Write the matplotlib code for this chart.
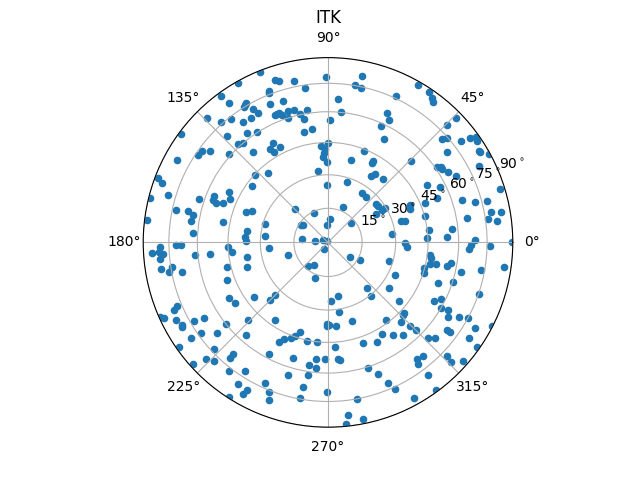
import numpy as np
import matplotlib
matplotlib.use("Agg")
import matplotlib.pyplot as plt

title = "ITK"
zenith_ticks = [15, 30, 45, 60, 75, 90]

# azimuth in degrees; radial position, on a 0-90 outer-edge scale
azimuth_q1 = [78.3, 80.1, 77.8, 60.1, 56, 64.9, 54.1, 53.1, 85.9, 84.1, 65.3, 88.9, 63.3, 65.3, 44.0, 44.4,
              61.3, 42.0, 41.3, 37.1, 36.2, 35.3, 34.1, 68.2, 37.0, 31.0, 30.6, 28.6, 74.1, 44.2, 60.8, 60.7,
              26.7, 34.4, 33.5, 32.5, 30.5, 55.2, 56.7, 48.7, 27.2, 72.1, 29.9, 26.1, 17.1, 55, 49.6, 21.9,
              17.4, 15.2, 14.4, 21.8, 38.2, 35.6, 66.3, 30.7, 30.5, 30.1, 24.2, 21.8, 10.7, 10.1, 15, 9.8,
              8.2, 7.1, 39.2, 16, 15.2, 6.8, 6, 7.1, 2.4, 2.3, 0.8, 359.3, 358.8, 358.9, 0, 84.2]
radial_q1 = [82.6, 77.6, 76.7, 88.2, 88.2, 78.5, 86.6, 85.3, 69.8, 63.6, 69.2, 59.4, 66.5, 62.2, 86.9, 81.4,
             57.2, 74.9, 77.4, 81.5, 85.8, 88.5, 87.8, 47.7, 72.8, 86, 86.2, 89.5, 41.5, 56.6, 45.2, 44.1,
             82.5, 64.6, 66.2, 66.1, 68, 40.4, 38.5, 40.8, 70.3, 30.7, 55.8, 60.9, 87.8, 29.1, 28.8, 57.4,
             68.5, 74.3, 80.1, 51.1, 29.9, 30.1, 18.6, 32.5, 30.7, 27.2, 44, 43.2, 81, 85.8, 49.1, 68.9,
             78.9, 83.1, 14.7, 37.1, 39, 49.7, 60.9, 31.6, 58.2, 48.4, 71.8, 37.7, 69.8, 79.1, 89.6, 11.3]

azimuth_q2 = [111.8, 108.1, 106.8, 101.8, 90.6, 119.3, 98.4, 111.4, 111.7, 126, 107.6, 125.4, 112.7, 120.3, 121, 121.7,
              119.2, 118.4, 107.1, 104.3, 98.9, 102.4, 110.8, 112.7, 111.6, 110, 107.7, 100.9, 121.7, 128.2, 134.2, 131.6,
              125.2, 97.9, 102.1, 126.3, 122.7, 143.6, 133.3, 132.2, 130.5, 118.9, 116.6, 121.8, 120.8, 129.7, 138, 94,
              89.8, 91.6, 92.4, 93.1, 90.7, 144.1, 142.3, 146.1, 151.4, 97.8, 130.9, 137.3, 159.3, 160.4, 143.5, 90.7,
              153.1, 163.6, 166.1, 158, 161.5, 156.2, 159.9, 160.7, 159.6, 134.7, 114.5, 157.7, 159.8, 168.1, 167.5, 168.7,
              170.9, 169.2, 173.1, 164, 145.4, 147.5, 92.2, 172.2, 176.2, 176.5, 174.5, 173.3, 175.5, 179.3, 157, 120]
radial_q2 = [89.5, 83, 81.9, 80.1, 80.4, 89.2, 75.8, 79.2, 78.1, 88.4, 72, 83, 72.8, 78.9, 78.2, 77.6,
             74.4, 71.4, 66.8, 66.5, 65.1, 64, 67.2, 67, 67, 65.8, 63.6, 61, 71, 76.2, 84.3, 78.2,
             71.5, 55.6, 54.8, 66.4, 63.7, 89.2, 71.5, 65, 63.4, 55.1, 51.8, 53.3, 51, 57, 64.7, 46.9,
             48.2, 45.3, 43.4, 41.5, 39, 75.6, 72.4, 76, 83.5, 34.9, 44.4, 48.1, 88.3, 85.6, 45.8, 28.2,
             53.9, 81.1, 89.5, 59.7, 66.1, 52, 59.5, 57.6, 54.4, 22.6, 16, 39.8, 42.4, 75.5, 69.7, 66.9,
             67.4, 51.9, 89, 31.8, 14.6, 15.4, 8.3, 39.7, 65.7, 40.3, 30.7, 12.6, 6.2, 39.8, 2.5, 0.6]

azimuth_q3 = [181.7, 183.3, 184.2, 183.4, 185.5, 181.1, 181.2, 185.6, 185.8, 182.9, 186, 190.5, 185.8, 198.1, 242, 188.9,
              189.1, 190.4, 191.6, 193.9, 197.2, 230.7, 239.3, 250.6, 200.7, 209.6, 213.4, 216.7, 225.2, 225.2, 203, 203.9,
              204.1, 204.9, 207.2, 210.3, 211.6, 224.4, 236, 209.7, 210.3, 218.9, 215.7, 219.4, 215.1, 228.7, 252.9, 250.8,
              249.1, 245.8, 244, 258.2, 263.9, 215.2, 223.3, 229.8, 229.9, 242.4, 223.9, 226.3, 253.4, 264.3, 222.2, 261.4,
              264.7, 232.6, 237.3, 253.4, 261.6, 246, 237.7, 260.3, 248.6, 241.4, 240.9, 237.5, 259.9, 249.6]
radial_q3 = [81.7, 85.7, 80.4, 82.3, 82, 73.9, 71.4, 64.9, 57.6, 48.6, 46.8, 40, 28.7, 20.3, 3.8, 82.2,
             76.8, 78.6, 72.4, 50.5, 41.1, 15.1, 13, 18.6, 52.4, 55.2, 54, 44.8, 39.8, 36.4, 79.7, 81.8,
             89.5, 87.9, 83, 75.4, 70.7, 54.3, 45.8, 81.6, 82.1, 63.6, 76, 69.8, 81.3, 60.3, 45.9, 48.5,
             50, 51.8, 54.2, 49.3, 49, 88.6, 76, 71.4, 73.8, 61.6, 82.2, 80.1, 59, 57.3, 88.5, 60.6,
             61.6, 79.1, 74.6, 67.6, 65.5, 75.1, 81.8, 71.6, 78.1, 82.1, 84.7, 89.5, 77.2, 82.1]

azimuth_q4 = [356.4, 357.2, 326.1, 330.9, 342.8, 352.8, 351.2, 347.9, 348.5, 344.9, 342.2, 350.3, 348.6, 347.3, 349.7, 352.2,
              333.9, 339.6, 342.3, 310.5, 323.1, 280.8, 273.2, 308.7, 320.4, 341, 331, 333.3, 329.8, 330.5, 279.2, 317.1,
              315.9, 328.1, 330.3, 331.6, 287.1, 306.8, 312.5, 269.5, 270.9, 269.1, 275.7, 314.4, 315.1, 329.7, 332.9, 323.6,
              323.7, 300.6, 305.1, 309, 296.3, 289.3, 316.3, 318.2, 325.8, 274, 325, 309.9, 307.4, 306.5, 316.3, 316,
              318.7, 275, 276, 268.5, 287.7, 290.9, 307.2, 293.2, 294.6, 306.2, 269.5, 299, 280.6, 276.7, 281.3, 275.8]
radial_q4 = [38.7, 68.9, 13.1, 18, 31.3, 50.2, 50.9, 51, 53.8, 48.6, 49.3, 60.9, 59.3, 66.6, 75.9, 86.7,
             36.5, 57.3, 64.1, 29.5, 37.3, 26.8, 28.8, 33.7, 45.1, 77.9, 59.2, 61.8, 63.9, 67.3, 34.5, 50.8,
             51.1, 69, 73.7, 77.7, 40.3, 47.4, 52.9, 39.5, 40.4, 40.9, 41.1, 57.3, 60.7, 83.1, 89.9, 72.2,
             74, 52, 55.4, 58.3, 54.3, 52.1, 67.6, 70.1, 83.2, 51.3, 88.4, 72.4, 71.7, 73.9, 80.4, 83.5,
             87.8, 57.2, 57.8, 57, 64.4, 68.8, 80.8, 74.7, 78.7, 89.3, 73.1, 86.8, 77.8, 84.4, 87.9, 89.1]

azimuth = np.array(azimuth_q1 + azimuth_q2 + azimuth_q3 + azimuth_q4)
radial = np.array(radial_q1 + radial_q2 + radial_q3 + radial_q4)

# equal-area zenith spacing of the rings, scaled so that 90 sits on the outer edge
ring_positions = 90 * np.sqrt(2) * np.sin(np.deg2rad(zenith_ticks) / 2)

fig = plt.figure(figsize=(6.4, 4.8), dpi=100)
ax = fig.add_subplot(projection="polar")
ax.scatter(np.deg2rad(azimuth), radial, s=20)
ax.set_rmin(0)
ax.set_rmax(90)
ax.set_rticks(ring_positions)
ax.set_yticklabels([f"{v}$^\\circ$" for v in zenith_ticks])
ax.set_title(title)
fig.savefig("out.png", dpi=100)
